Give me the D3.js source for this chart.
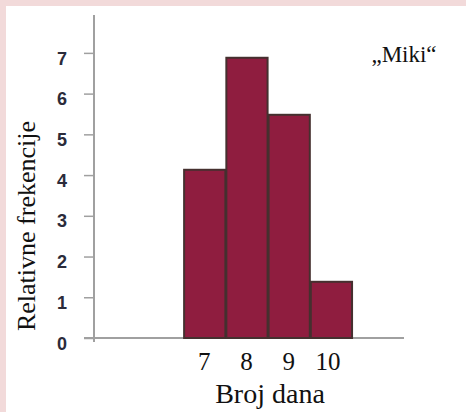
<!DOCTYPE html>
<html><head><meta charset="utf-8">
<script src="https://cdn.jsdelivr.net/npm/d3@7"></script>
<style>html,body{margin:0;padding:0;background:#f2dada;}svg{display:block;}</style>
</head><body>
<svg id="c" width="466" height="412"></svg>
<script>
const days = [7, 8, 9, 10];
const freq = [4.13, 6.88, 5.48, 1.38];
const yTicks = [0, 1, 2, 3, 4, 5, 6, 7];
const xTickLabels = ["7", "8", "9", "10"];
const title = "\u201EMiki\u201C";
const xTitle = "Broj dana";
const yTitle = "Relativne frekencije";

const svg = d3.select("#c");
svg.append("rect").attr("x", 0).attr("y", 0).attr("width", 466).attr("height", 412).attr("fill", "#f2dada");
svg.append("rect").attr("x", 6).attr("y", 6).attr("width", 460).attr("height", 406).attr("fill", "#ffffff");

const x = d3.scaleLinear().domain([4.39, 11.73]).range([94, 404]);
const y = d3.scaleLinear().domain([0, 7.93]).range([338, 15]);

// x axis line
svg.append("line").attr("x1", 84).attr("x2", x.range()[1]).attr("y1", y(0)).attr("y2", y(0))
  .attr("stroke", "#a0a0a0").attr("stroke-width", 2);

// y axis
const yAxis = d3.axisLeft(y).tickValues(yTicks).tickSize(10).tickPadding(17).tickFormat(d3.format("d"));
const gy = svg.append("g").attr("transform", "translate(94,0)").call(yAxis);
gy.select(".domain").attr("stroke", "#a0a0a0").attr("stroke-width", 2).attr("d", `M0,${y(0)+4}V${y.range()[1]}`);
gy.selectAll(".tick line").attr("stroke", "#a0a0a0").attr("stroke-width", 1.5);
gy.selectAll(".tick text").attr("fill", "#2b2b3a").attr("font-family", "Liberation Sans, Arial, sans-serif")
  .attr("font-size", 18).attr("font-weight", "bold").attr("dy", "0.62em");

// bars
svg.append("g").selectAll("rect").data(days).join("rect")
  .attr("x", (d) => x(d - 0.5) + 1)
  .attr("width", (d) => x(d + 0.5) - x(d - 0.5) - 1)
  .attr("y", (d, i) => y(freq[i]))
  .attr("height", (d, i) => y(0) - y(freq[i]))
  .attr("fill", "#8f1d3f")
  .attr("stroke", "#45302f")
  .attr("stroke-width", 2);

// x tick labels
svg.append("g").selectAll("text").data(days).join("text")
  .attr("x", (d) => x(d) - (d === 10 ? 3 : 0))
  .attr("y", 370)
  .attr("text-anchor", "middle")
  .attr("font-family", "Liberation Serif, Times New Roman, serif")
  .attr("font-size", 25)
  .attr("fill", "#111")
  .text((d, i) => xTickLabels[i]);

// x title
svg.append("text").attr("x", 270).attr("y", 403).attr("text-anchor", "middle")
  .attr("font-family", "Liberation Serif, Times New Roman, serif").attr("font-size", 28).attr("fill", "#111")
  .text(xTitle);

// y title
svg.append("text").attr("transform", "translate(35,226) rotate(-90)").attr("text-anchor", "middle")
  .attr("font-family", "Liberation Serif, Times New Roman, serif").attr("font-size", 26).attr("fill", "#111")
  .text(yTitle);

// label
svg.append("text").attr("x", 404).attr("y", 62).attr("text-anchor", "middle")
  .attr("font-family", "Liberation Serif, Times New Roman, serif").attr("font-size", 23).attr("fill", "#111")
  .text(title);
</script>
</body></html>
